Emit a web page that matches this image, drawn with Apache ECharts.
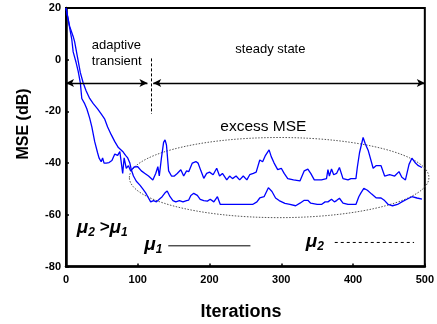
<!DOCTYPE html>
<html><head><meta charset="utf-8">
<script src="https://cdn.jsdelivr.net/npm/echarts@6/dist/echarts.min.js"></script>
<style>html,body{margin:0;padding:0;background:#fff}#c{width:437px;height:324px}</style>
</head><body><div id="c"></div>
<script>
// Axis ticks
const xTicks = [0, 100, 200, 300, 400, 500];
const yTicks = [-80, -60, -40, -20, 0, 20];

// Curve A (larger step size mu2): fast convergence, higher steady-state MSE
const iterA = [0,4,8,10,14,17,20,22,26,29,33,36,40,44,46,49,51,53,56,60,64,68,70,72,75,77,79,81,84,87,90,95,100,105,110,115,121,125,128,130,133,136,138,140,143,147,151,155,160,164,168,171,176,181,184,188,192,196,200,205,210,214,218,224,228,232,237,242,247,252,256,261,265,270,274,278,283,286,290,295,300,304,309,317,326,332,337,341,346,356,363,365,367,370,373,377,381,386,393,397,404,406,409,414,417,421,428,432,439,444,451,458,464,468,473,478,482,487,491,496];
const mseA  = [20,14,8,3,-1,-4.5,-9,-15,-17,-19,-22.6,-26,-31.7,-36,-38,-39.5,-38,-40,-40,-39.8,-39,-36.5,-36,-37,-35.5,-36,-44,-38,-42,-41,-43,-41.5,-41.4,-43,-44,-45,-46.5,-44,-41.4,-45,-38,-32,-31,-33,-43,-45,-45,-44,-42.6,-45,-43,-43.3,-40,-39.4,-40,-43,-45.9,-44,-43.5,-44.5,-42,-45,-44,-46.5,-45,-46,-45,-46.5,-45,-46.5,-44.5,-44,-43.5,-38.8,-39.5,-37,-34.9,-37.5,-40,-42.5,-42,-44,-46,-46.5,-46.9,-43,-42.3,-44,-46.5,-46.5,-46,-42.5,-45,-42.3,-44.5,-44,-41.7,-46,-46.5,-46,-46,-41.5,-36,-30.1,-32.5,-35,-42,-41,-41,-45,-44.5,-45,-43.3,-45.5,-46.5,-40.5,-38.1,-40,-41,-41.7];

// Curve B (smaller step size mu1): slow convergence, lower steady-state MSE
const iterB = [0,5,10,12,16,20,24,28,33,38,44,49,54,58,63,68,73,79,83,86,89,91,94,98,103,107,111,114,118,122,126,130,134,138,141,145,149,153,158,163,168,171,174,178,183,187,192,197,201,206,211,215,222,229,240,250,260,266,270,276,282,287,292,297,305,312,320,326,332,337,341,350,356,361,365,370,374,377,381,386,393,404,408,411,415,420,426,432,439,444,449,455,462,468,475,482,489,496];
const mseB  = [20,13,9,7,1,-5,-9,-12,-15,-17,-19,-21,-23,-26,-29,-31.7,-34,-35.5,-37,-38,-40,-42.6,-45,-47,-48.5,-50,-51.5,-53,-55,-54.5,-55,-54,-53,-51.5,-50.8,-53,-54.5,-55,-54.5,-55,-54.5,-54.3,-52.5,-51.7,-52.5,-54,-54.5,-54.7,-54,-55,-53,-56,-56,-56,-56,-56,-56,-55,-53.5,-53,-49.5,-51,-53.5,-54.5,-55.6,-56,-56.5,-55.5,-54.4,-54.4,-55.5,-56,-56,-55,-55,-54,-55,-54.5,-53.6,-55.5,-56,-56,-53,-51.5,-49.8,-50.5,-52,-53.4,-53.5,-54.5,-56,-56.5,-56,-55,-54,-53,-53.5,-53.9];

const FONT = '"Liberation Sans", Arial, Helvetica, sans-serif';
const zip = (xs, ys) => xs.map((x, i) => [x, ys[i]]);

const chart = echarts.init(document.getElementById('c'), null, {renderer: 'canvas'});
const axisCommon = {
  type: 'value',
  axisLine: {show: true, onZero: false, lineStyle: {color: '#000', width: 2.5}},
  axisTick: {show: true, inside: true, length: 3, lineStyle: {color: '#000', width: 1.5}},
  axisLabel: {color: '#000', fontWeight: 'bold', fontSize: 11, fontFamily: FONT},
  splitLine: {show: false}
};
chart.setOption({
  animation: false,
  backgroundColor: '#fff',
  grid: {left: 66, right: 9, top: 8, bottom: 57.5, show: true, borderColor: '#000', borderWidth: 2, backgroundColor: 'transparent'},
  xAxis: Object.assign({}, axisCommon, {
    min: xTicks[0], max: xTicks[xTicks.length - 1], interval: 100,
    axisLabel: Object.assign({}, axisCommon.axisLabel, {margin: 8})
  }),
  yAxis: Object.assign({}, axisCommon, {
    min: yTicks[0], max: yTicks[yTicks.length - 1], interval: 20,
    axisLabel: Object.assign({}, axisCommon.axisLabel, {margin: 5})
  }),
  series: [
    {type: 'line', data: zip(iterA, mseA), showSymbol: false, symbol: 'none',
     lineStyle: {color: '#0000ff', width: 1.3}, z: 3},
    {type: 'line', data: zip(iterB, mseB), showSymbol: false, symbol: 'none',
     lineStyle: {color: '#0000ff', width: 1.3}, z: 3,
     markLine: {
       silent: true, symbol: ['arrow', 'arrow'], symbolSize: [6, 8],
       label: {show: false},
       lineStyle: {color: '#000', width: 1.3, type: 'solid'},
       data: [
         [{coord: [0, -9]}, {coord: [113.5, -9]}],
         [{coord: [121.5, -9]}, {coord: [500, -9]}],
         [{coord: [118.5, 0.5], symbol: 'none'}, {coord: [118.5, -21], symbol: 'none', lineStyle: {type: [3, 2], width: 1}}]
       ]
     }}
  ]
});

const P = (x, y) => chart.convertToPixel({gridIndex: 0}, [x, y]);
const c = P(297, -45.6);
const ex = P(297 + 208.7, -45.6), ey = P(297, -45.6 + 15.5);
const l1a = P(142.5, -72), l1b = P(257, -72);
const l2a = P(374.5, -70.7), l2b = P(485, -70.7);
const muRich = {
  m: {fontSize: 19, fontWeight: 'bold', fontStyle: 'italic', fontFamily: FONT, fill: '#000'},
  s: {fontSize: 12, fontWeight: 'bold', fontStyle: 'italic', fontFamily: FONT, fill: '#000', padding: [10, 0, 0, 0]},
  g: {fontSize: 17, fontWeight: 'bold', fontStyle: 'italic', fontFamily: FONT, fill: '#000'}
};
const txt = (x, y, text, size) => {
  const p = P(x, y);
  return {type: 'text', x: p[0], y: p[1], z: 10,
    style: {text: text, fontSize: size, fontFamily: FONT, fill: '#000', textVerticalAlign: 'middle'}};
};
const rich = (x, y, text) => {
  const p = P(x, y);
  return {type: 'text', x: p[0], y: p[1], z: 10,
    style: {text: text, rich: muRich, textVerticalAlign: 'middle', fontFamily: FONT}};
};
chart.setOption({
  graphic: [
    {type: 'ellipse', z: 2, shape: {cx: c[0], cy: c[1], rx: ex[0] - c[0], ry: c[1] - ey[1]},
     style: {fill: 'none', stroke: '#555', lineWidth: 1, lineDash: [1.5, 1.5]}},
    {type: 'text', x: 241, y: 312, z: 10,
     style: {text: 'Iterations', fontSize: 18, fontWeight: 'bold', fontFamily: FONT, fill: '#000', textAlign: 'center', textVerticalAlign: 'middle'}},
    {type: 'text', x: 23.5, y: 124, rotation: Math.PI / 2, z: 10,
     style: {text: 'MSE (dB)', fontSize: 16, fontWeight: 'bold', fontFamily: FONT, fill: '#000', textAlign: 'center', textVerticalAlign: 'middle'}},
    txt(36, 5.5, 'adaptive', 13),
    txt(36, -0.5, 'transient', 13),
    txt(236, 4, 'steady state', 13),
    txt(215, -26, 'excess MSE', 15.5),
    rich(15, -65, '{m|μ}{s|2}{g| >}{m|μ}{s|1}'),
    rich(109, -71.6, '{m|μ}{s|1}'),
    rich(334, -70.4, '{m|μ}{s|2}'),
    {type: 'line', z: 10, shape: {x1: l1a[0], y1: l1a[1], x2: l1b[0], y2: l1b[1]}, style: {stroke: '#000', lineWidth: 1}},
    {type: 'line', z: 10, shape: {x1: l2a[0], y1: l2a[1], x2: l2b[0], y2: l2b[1]}, style: {stroke: '#000', lineWidth: 1, lineDash: [3, 3]}}
  ]
});
</script>
</body></html>
